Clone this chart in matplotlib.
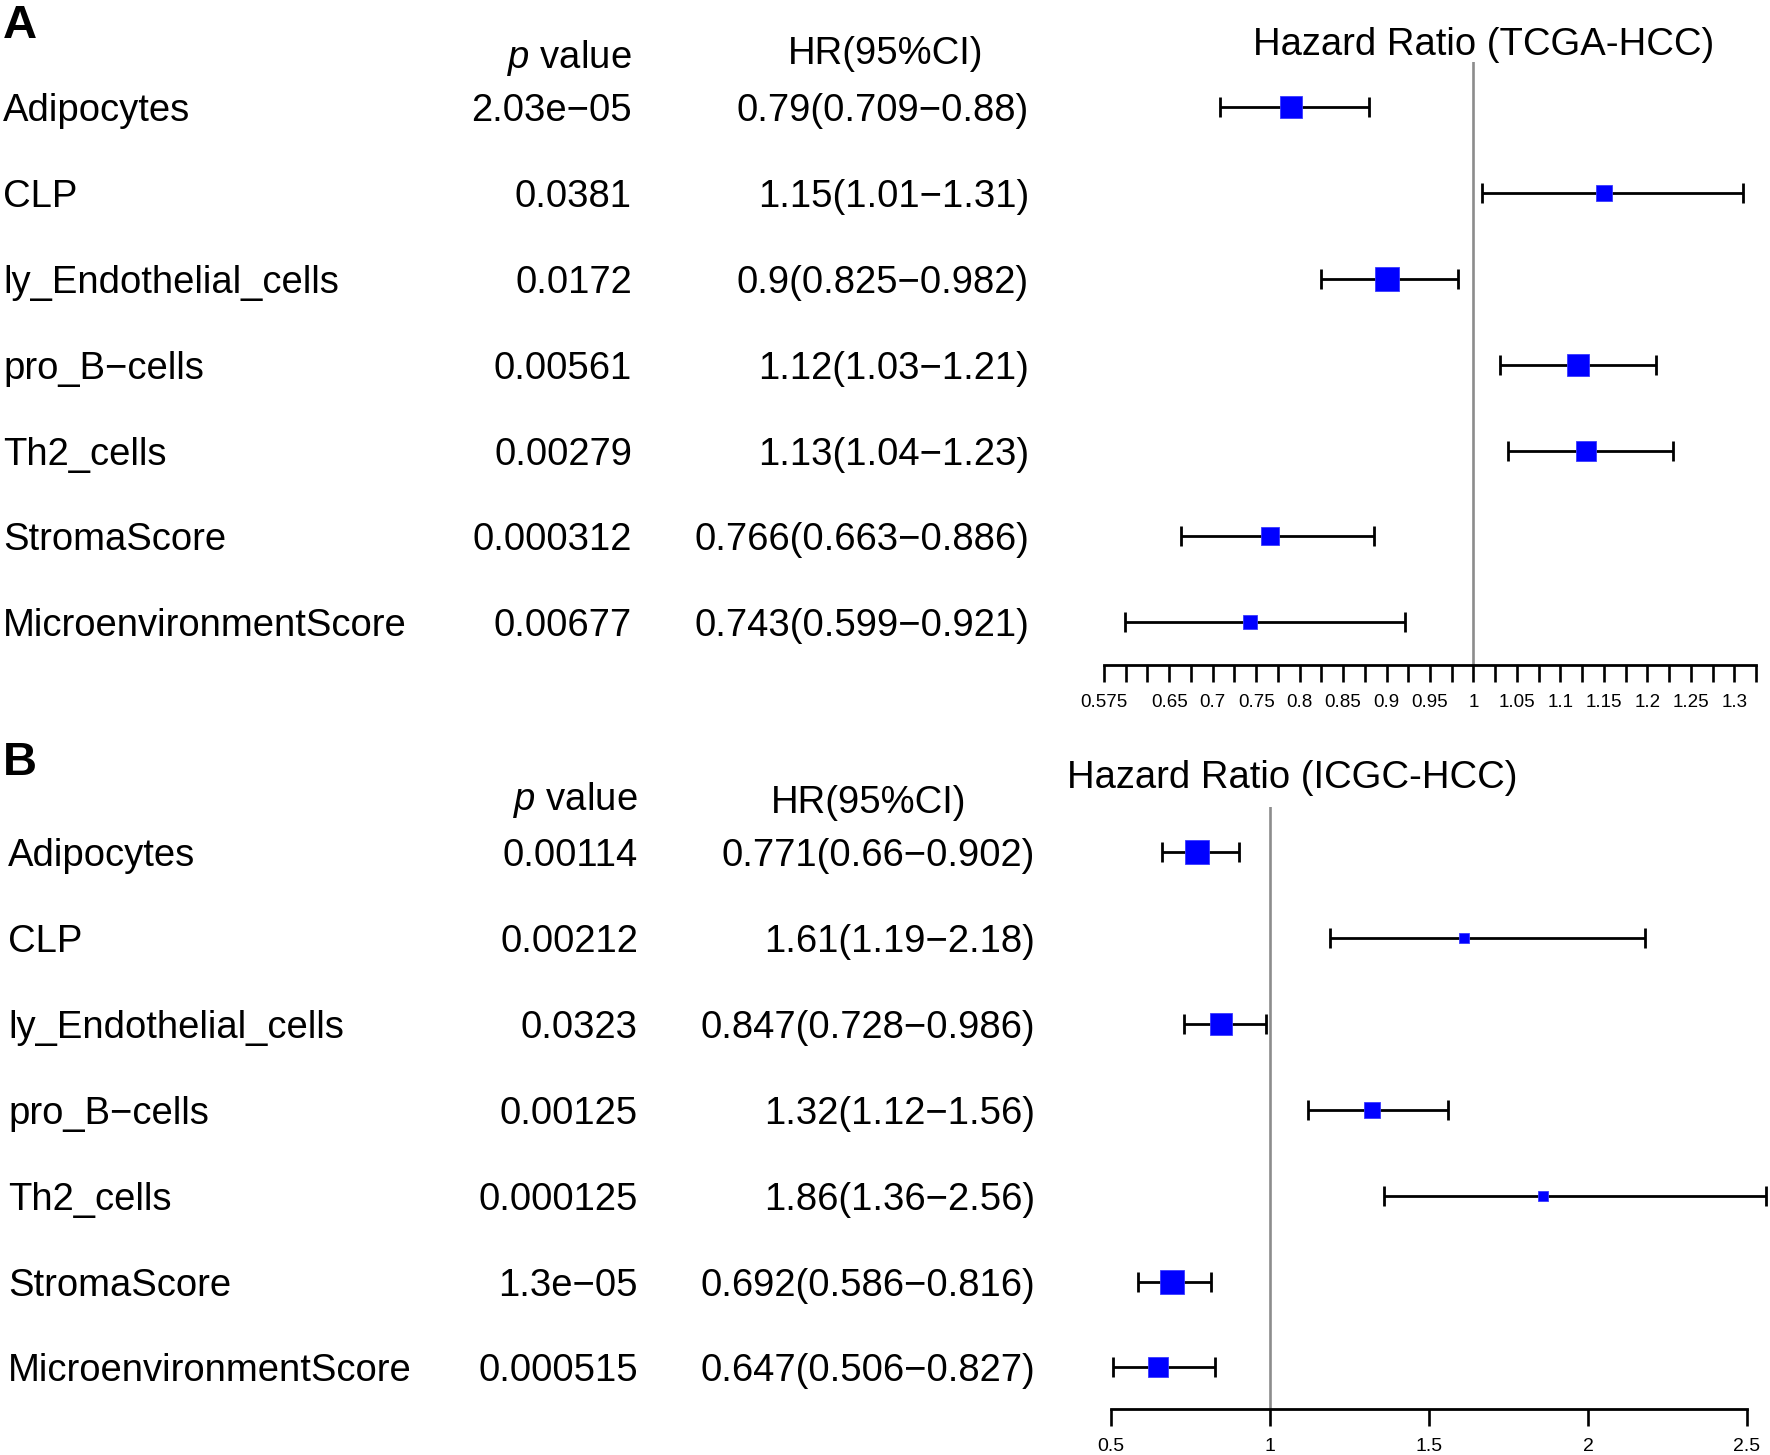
import matplotlib
matplotlib.use("Agg")
import numpy as np
import matplotlib.pyplot as plt

# data: TCGA-HCC (panel A)
names_a = ["Adipocytes", "CLP", "ly_Endothelial_cells", "pro_B\u2212cells",
           "Th2_cells", "StromaScore", "MicroenvironmentScore"]
pvals_a = ["2.03e\u221205", "0.0381", "0.0172", "0.00561", "0.00279", "0.000312", "0.00677"]
hr_a = [0.79, 1.15, 0.9, 1.12, 1.13, 0.766, 0.743]
lo_a = [0.709, 1.01, 0.825, 1.03, 1.04, 0.663, 0.599]
hi_a = [0.88, 1.31, 0.982, 1.21, 1.23, 0.886, 0.921]
hr_text_a = ["0.79(0.709\u22120.88)", "1.15(1.01\u22121.31)", "0.9(0.825\u22120.982)",
             "1.12(1.03\u22121.21)", "1.13(1.04\u22121.23)", "0.766(0.663\u22120.886)",
             "0.743(0.599\u22120.921)"]
ticklabels_a = [0.575, 0.65, 0.7, 0.75, 0.8, 0.85, 0.9, 0.95, 1, 1.05, 1.1, 1.15, 1.2, 1.25, 1.3]

# data: ICGC-HCC (panel B)
names_b = names_a
pvals_b = ["0.00114", "0.00212", "0.0323", "0.00125", "0.000125", "1.3e\u221205", "0.000515"]
hr_b = [0.771, 1.61, 0.847, 1.32, 1.86, 0.692, 0.647]
lo_b = [0.66, 1.19, 0.728, 1.12, 1.36, 0.586, 0.506]
hi_b = [0.902, 2.18, 0.986, 1.56, 2.56, 0.816, 0.827]
hr_text_b = ["0.771(0.66\u22120.902)", "1.61(1.19\u22122.18)", "0.847(0.728\u22120.986)",
             "1.32(1.12\u22121.56)", "1.86(1.36\u22122.56)", "0.692(0.586\u22120.816)",
             "0.647(0.506\u22120.827)"]
ticklabels_b = [0.5, 1, 1.5, 2, 2.5]

plt.rcParams["font.family"] = ["Liberation Sans", "DejaVu Sans"]
plt.rcParams["mathtext.fontset"] = "custom"
plt.rcParams["mathtext.rm"] = "Liberation Sans"
plt.rcParams["mathtext.it"] = "Liberation Sans:italic"

W, H = 1770, 1455
fig = plt.figure(figsize=(W / 100, H / 100), dpi=100)

FS = 27.5
TXT_DY = 4  # text sits a touch lower than the box centres


def fx(px):
    return px / W


def fy(py):
    return 1 - py / H


def panel(names, pvals, hr, lo, hi, hr_text, box_pt, letter, letter_y, title, title_xy,
          name_x, p_right, hr_right, pv_head_y, hr_head_x, hr_head_y, row0, row_step,
          ax_px, xlim, ticks, ticklabels, tick_fs):
    n = len(names)
    # text columns
    for i in range(n):
        yy = fy(row0 + i * row_step + TXT_DY)
        fig.text(fx(name_x), yy, names[i], fontsize=FS, ha="left", va="center")
        fig.text(fx(p_right), yy, pvals[i], fontsize=FS, ha="right", va="center")
        fig.text(fx(hr_right), yy, hr_text[i], fontsize=FS, ha="right", va="center")
    fig.text(fx(p_right), fy(pv_head_y + TXT_DY), r"$p$ value", fontsize=FS, ha="right", va="center")
    fig.text(fx(hr_head_x), fy(hr_head_y + TXT_DY), "HR(95%CI)", fontsize=FS, ha="center", va="center")
    fig.text(fx(3), fy(letter_y + TXT_DY), letter, fontsize=34, fontweight="bold", ha="left", va="center")
    fig.text(fx(title_xy[0]), fy(title_xy[1] + TXT_DY), title, fontsize=FS, ha="center", va="center")

    # forest axes
    left, right, top, bottom = ax_px
    ax = fig.add_axes([fx(left), fy(bottom), fx(right - left), (bottom - top) / H])
    y = np.arange(n, 0, -1)
    # bottom spine sits at half a row below the last row
    ybot = 1 - (bottom - (row0 + (n - 1) * row_step)) / row_step
    ytop = n + (row0 - top) / row_step
    ax.set_ylim(ybot, ytop)
    ax.set_xlim(*xlim)
    ax.axvline(1, color="#8c8c8c", lw=1.9, zorder=1)
    for i in range(n):
        eb = ax.errorbar(hr[i], y[i], xerr=[[hr[i] - lo[i]], [hi[i] - hr[i]]], fmt="none",
                         ecolor="black", elinewidth=2.0, capsize=7, capthick=2.0, zorder=2)
        for art in eb.lines[1] + eb.lines[2]:
            art.set_clip_on(False)
        ax.plot(hr[i], y[i], marker="s", markersize=box_pt[i], color="#0000ff",
                markeredgecolor="#3a3aff", markeredgewidth=0.6, zorder=3, clip_on=False)
    for s in ["left", "right", "top"]:
        ax.spines[s].set_visible(False)
    ax.spines["bottom"].set_linewidth(2.0)
    ax.set_yticks([])
    labs = []
    for t in ticks:
        labs.append(f"{t:g}" if any(abs(t - v) < 1e-9 for v in ticklabels) else "")
    ax.set_xticks(ticks)
    ax.set_xticklabels(labs, fontsize=tick_fs)
    ax.tick_params(axis="x", length=12, width=1.9, pad=9)
    ax.patch.set_alpha(0)
    return ax


box_a = [15.8, 11.1, 16.9, 15.4, 14.8, 13.5, 10.4]
box_b = [16.6, 7.9, 15.8, 11.5, 7.2, 17.3, 13.7]

panel(names_a, pvals_a, hr_a, lo_a, hi_a, hr_text_a, box_a, "A", 22,
      "Hazard Ratio (TCGA-HCC)", (1484, 41),
      3, 632, 1029, 54, 886, 50, 107, 85.9,
      (1104, 1756, 62, 665), (0.575, 1.325),
      np.round(np.arange(0.575, 1.3251, 0.025), 3), ticklabels_a, 13.5)

panel(names_b, pvals_b, hr_b, lo_b, hi_b, hr_text_b, box_b, "B", 759,
      "Hazard Ratio (ICGC-HCC)", (1292, 774),
      8, 638, 1035, 796, 869, 799, 852, 85.9,
      (1111, 1747, 807, 1409), (0.5, 2.5),
      np.array(ticklabels_b), ticklabels_b, 14)

fig.savefig("out.png", dpi=100)
